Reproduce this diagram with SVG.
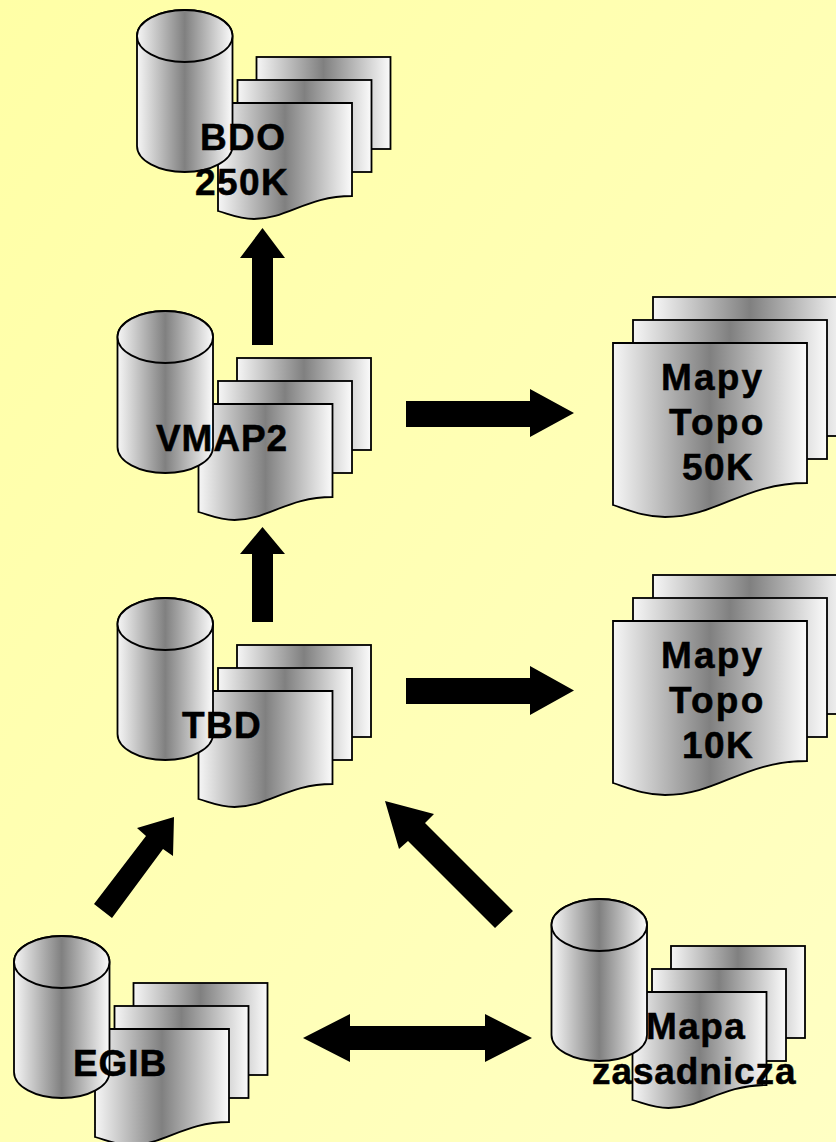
<svg xmlns="http://www.w3.org/2000/svg" width="836" height="1142" viewBox="0 0 836 1142">
<style>
.s{stroke:#000;stroke-width:1.8;fill:url(#g);stroke-linejoin:miter}
.a{fill:#000}
text{font-family:"Liberation Sans",Arial,sans-serif;font-weight:700;font-size:37px;letter-spacing:1.4px;fill:#000;stroke:#000;stroke-width:.5px}
.n{letter-spacing:.9px}
.w{letter-spacing:2.2px}
</style>
<defs>
<linearGradient id="bg" x1="0" y1="0" x2="1" y2="1"><stop offset="0" stop-color="#ffffa6"/><stop offset="1" stop-color="#ffffc4"/></linearGradient>
<linearGradient id="g" x1="0" y1="0" x2="1" y2="0"><stop offset="0" stop-color="#f6f6f6"/><stop offset=".5" stop-color="#808080"/><stop offset="1" stop-color="#fbfbfb"/></linearGradient>
<g id="small">
<rect class="s" x="119.500" y="47" width="134" height="92"/>
<rect class="s" x="100.500" y="70" width="134" height="92"/>
<path class="s" d="M81 93H215V186C170 186 150 209 117 209C102 209 92 204 81 201Z"/>
<path class="s" d="M0 26V136A47.750 26 0 0 0 95.500 136V26A47.750 26 0 0 0 0 26Z"/>
<ellipse class="s" cx="47.750" cy="26" rx="47.750" ry="26"/>
</g>
<g id="big">
<rect class="s" x="40" y="0" width="194" height="139"/>
<rect class="s" x="20" y="23" width="194" height="139"/>
<path class="s" d="M0 46H194V186C130 186 105 220 52 220C32 220 18 214 0 208Z"/>
</g>
</defs>
<rect width="836" height="1142" fill="url(#bg)"/>
<g id="connectors">
<path class="a" d="M252 345V258H240L262.500 228L285 258H273V345Z"/>
<path class="a" d="M252 622V554H240L262.500 527L285 554H273V622Z"/>
<path class="a" d="M406 401H530V389L574 413L530 437V427H406Z"/>
<path class="a" d="M406 678H530V666L574 690.500L530 715V704H406Z"/>
<path class="a" d="M94 904L146 836L137 828L174 817L173 856L163 849L112 918Z"/>
<path class="a" d="M513 911L425 823L434 814L385 801L399 849L408 841L495 928Z"/>
<path class="a" d="M303 1038L350 1014V1026H485V1014L532 1038L485 1062V1050H350V1062Z"/>
</g>
<g id="bdo"><use href="#small" transform="translate(137,10)"/><text x="200" y="150">BDO</text><text x="195" y="195">250K</text></g>
<g id="vmap2"><use href="#small" transform="translate(117.500,311)"/><text class="n" x="156" y="451">VMAP2</text></g>
<g id="tbd"><use href="#small" transform="translate(117.500,598)"/><text x="182" y="738">TBD</text></g>
<g id="egib"><use href="#small" transform="translate(14,936)"/><text class="n" x="73" y="1076">EGIB</text></g>
<g id="mapa"><use href="#small" transform="translate(551.500,899)"/><text x="646" y="1039">Mapa</text><text class="n" x="592" y="1084">zasadnicza</text></g>
<g id="topo50"><use href="#big" transform="translate(613,297)"/><text class="w" x="661" y="390">Mapy</text><text class="w" x="669" y="435">Topo</text><text x="682" y="480">50K</text></g>
<g id="topo10"><use href="#big" transform="translate(613,575)"/><text class="w" x="661" y="668">Mapy</text><text class="w" x="669" y="713">Topo</text><text x="682" y="758">10K</text></g>
</svg>
